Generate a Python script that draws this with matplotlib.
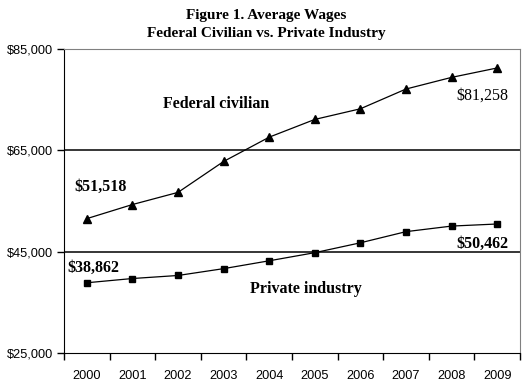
import matplotlib
matplotlib.use("Agg")
import matplotlib.pyplot as plt
import numpy as np

years = ["2000", "2001", "2002", "2003", "2004", "2005", "2006", "2007", "2008", "2009"]
federal = [51518, 54300, 56700, 62800, 67600, 71100, 73200, 77100, 79400, 81258]
private = [38862, 39700, 40300, 41650, 43200, 44800, 46750, 48950, 50050, 50462]
yticks = [25000, 45000, 65000, 85000]

W, H = 532, 391
fig = plt.figure(figsize=(W / 100, H / 100), dpi=100)
ax = fig.add_axes([64 / W, 1 - 353 / H, (520 - 64) / W, (353 - 49) / H])

x = np.arange(len(years))
ax.plot(x, federal, color="black", lw=0.9, marker="^", ms=5.5, zorder=3)
ax.plot(x, private, color="black", lw=0.9, marker="s", ms=4.3, zorder=3)

# gridlines
for v in yticks[1:3]:
    ax.axhline(v, color="black", lw=1.1, zorder=1)

ax.set_xlim(-0.5, len(years) - 0.5)
ax.set_ylim(25000, 85000)
ax.set_yticks(yticks)
ax.set_yticklabels(["${:,}".format(v) for v in yticks], family="Liberation Sans", fontsize=9.2)
ax.set_xticks(x)
ax.set_xticklabels(years, family="Liberation Sans", fontsize=9.2)
ax.set_xticks(np.arange(len(years) + 1) - 0.5, minor=True)
ax.tick_params(axis="x", which="major", length=0, pad=12)
ax.tick_params(axis="x", which="minor", length=5, width=1, direction="out")
ax.tick_params(axis="y", length=5, width=1, direction="out", pad=3)

for s in ["top", "right"]:
    ax.spines[s].set_color("#808080")
for s in ["left", "bottom"]:
    ax.spines[s].set_color("black")

fig.text(0.5, 1 - 15 / H, "Figure 1. Average Wages", ha="center", va="center",
         family="Liberation Serif", weight="bold", fontsize=11)
fig.text(0.5, 1 - 34 / H, "Federal Civilian vs. Private Industry", ha="center", va="center",
         family="Liberation Serif", weight="bold", fontsize=11)

def label(px, py, s, weight="bold"):
    fig.text(px / W, 1 - py / H, s, ha="left", va="center",
             family="Liberation Serif", weight=weight, fontsize=11.5)

label(163, 104, "Federal civilian")
label(74, 187, "$51,518")
label(456, 96, "$81,258", weight="normal")
label(456, 244, "$50,462")
label(67, 268, "$38,862")
label(250, 289, "Private industry")

fig.savefig("out.png", dpi=100)
